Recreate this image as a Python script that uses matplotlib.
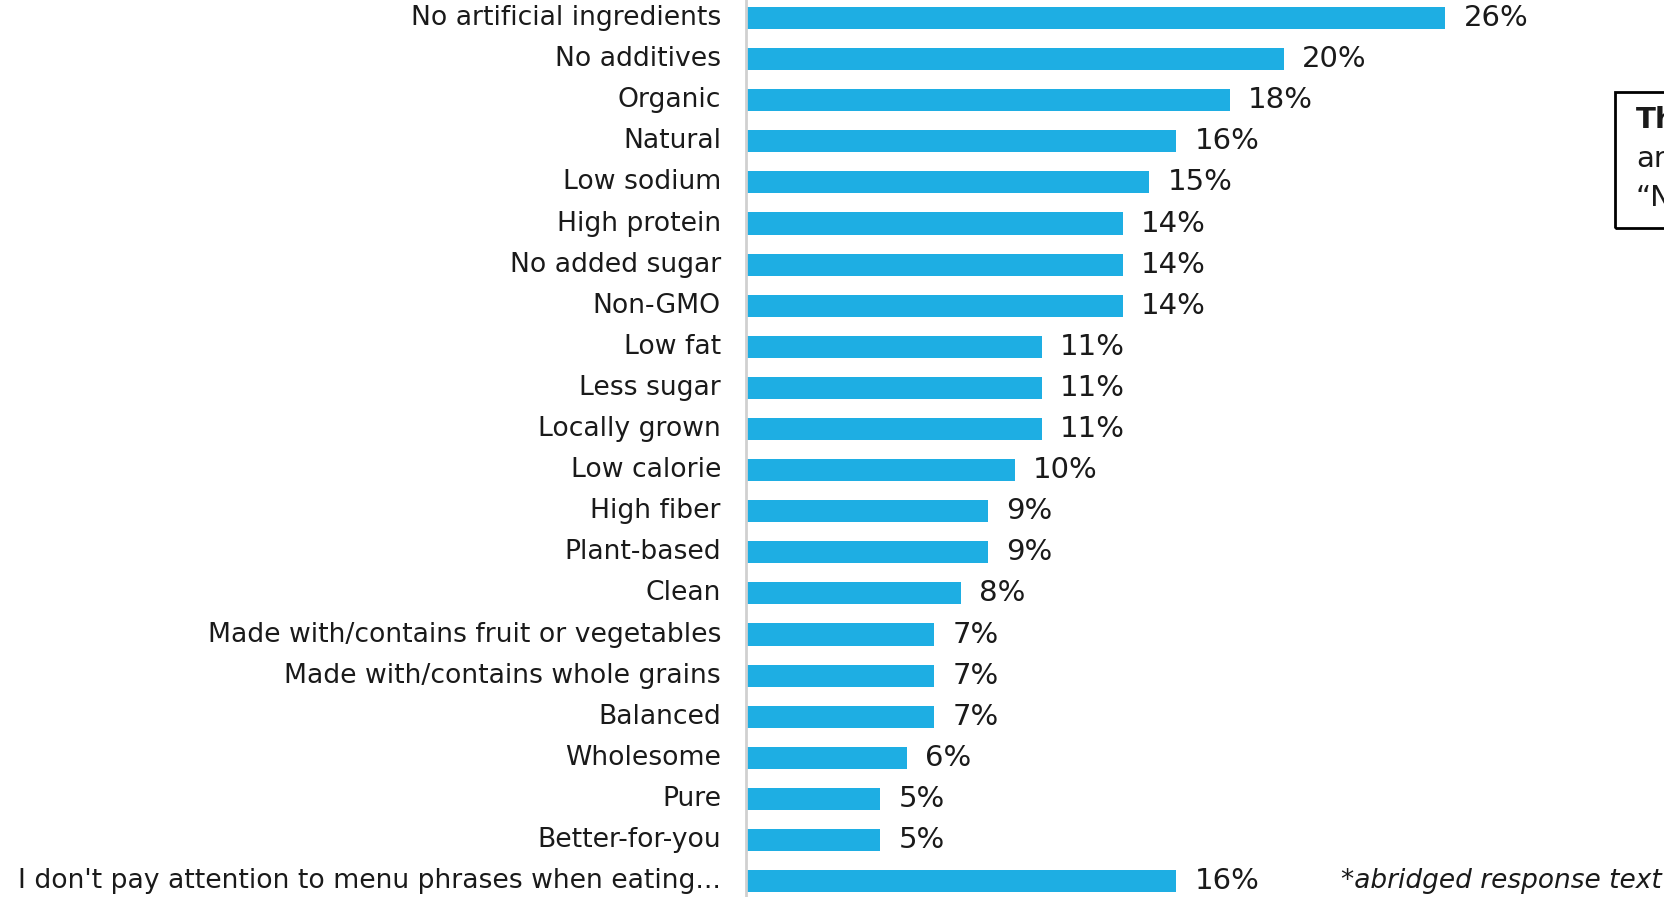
import numpy as np
import matplotlib
matplotlib.use("Agg")
import matplotlib.pyplot as plt
from matplotlib.patches import Rectangle

labels = [
    "No artificial ingredients", "No additives", "Organic", "Natural",
    "Low sodium", "High protein", "No added sugar", "Non-GMO", "Low fat",
    "Less sugar", "Locally grown", "Low calorie", "High fiber", "Plant-based",
    "Clean", "Made with/contains fruit or vegetables",
    "Made with/contains whole grains", "Balanced", "Wholesome", "Pure",
    "Better-for-you", "I don't pay attention to menu phrases when eating...",
]
values = [26, 20, 18, 16, 15, 14, 14, 14, 11, 11, 11, 10, 9, 9, 8, 7, 7, 7, 6, 5, 5, 16]

bar_color = "#1eaee3"
text_color = "#1a1a1a"
font = ["DejaVu Sans"]

W, H = 1665, 897
fig = plt.figure(figsize=(W / 100, H / 100), dpi=100)
ax_left = 746 / W
ax = fig.add_axes([ax_left, 0, 1 - ax_left, 1])

y = np.arange(len(labels))
ax.barh(y, values, height=0.54, color=bar_color)

px_per_pct = 26.9
ax.set_xlim(0, (W - 746) / px_per_pct)
spacing = 41.1
ax.set_ylim((H - 18) / spacing, -18 / spacing)

for yi, v in zip(y, values):
    ax.text(v + 18 / px_per_pct, yi, f"{v}%", va="center", ha="left",
            fontsize=21, color=text_color, family=font)
    ax.text(-25 / px_per_pct, yi, labels[yi], va="center", ha="right",
            fontsize=19.2, color=text_color, family=font, clip_on=False)

for s in ["top", "right", "bottom"]:
    ax.spines[s].set_visible(False)
ax.spines["left"].set_color("#d0d0d0")
ax.spines["left"].set_linewidth(2)
ax.set_xticks([])
ax.set_yticks([])

ax.text(0.997, y[-1], "*abridged response text", transform=ax.get_yaxis_transform(),
        ha="right", va="center", fontsize=19, style="italic", color=text_color,
        family=font)

# side note box, cut off at the figure edge (as in the source image)
fig.patches.append(Rectangle((1615 / W, 1 - 228 / H), 0.1, 136 / H,
                             transform=fig.transFigure, fill=False,
                             edgecolor="black", linewidth=2))
fig.text(1636 / W, 1 - 120 / H, "Th", fontsize=21, weight="bold", va="center",
         family=font, color=text_color)
fig.text(1636 / W, 1 - 159 / H, "ar", fontsize=21, va="center",
         family=font, color=text_color)
fig.text(1636 / W, 1 - 198 / H, "\u201cN", fontsize=21, va="center",
         family=font, color=text_color)

fig.savefig("out.png", dpi=100)
